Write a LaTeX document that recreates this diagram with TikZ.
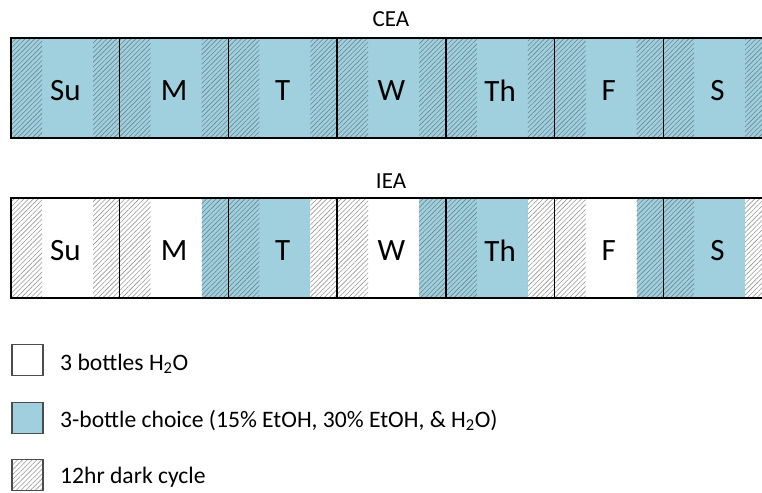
\documentclass[tikz,border=0pt]{standalone}
\usepackage{fontspec}
\setmainfont{Carlito}
\usetikzlibrary{patterns.meta}
\definecolor{choiceblue}{RGB}{160,207,222}
\tikzset{
  every node/.style={font=\fontsize{23}{27}\selectfont, inner sep=0pt},
  water/.style={fill=white},
  choice/.style={fill=choiceblue},
  waterhatch/.style={
    pattern={Lines[angle=45, distance=3.4pt, line width=0.6pt]},
    pattern color=black!40
  },
  choicehatch/.style={
    pattern={Lines[angle=45, distance=3.4pt, line width=0.6pt]},
    pattern color=choiceblue!65!black
  },
  barframe/.style={draw=black, line width=2pt},
  daysep/.style={draw=black, line width=1.4pt},
  daylabel/.style={font=\fontsize{31}{35}\selectfont},
  legtext/.style={anchor=base west, font=\fontsize{23.6}{28}\selectfont},
  legbox/.style={draw=black!70, line width=1.2pt, minimum size=31pt}
}

\begin{document}
\begin{tikzpicture}[x=1pt, y=-1pt]
    \useasboundingbox (0,0) rectangle (762,492);
    \clip (0,0) rectangle (762,492);

    % Titles
    \node (cea) at (391,19) {CEA};
    \node (iea) at (391,181) {IEA};

    % CEA week: choice all day, dark at both ends
    \foreach \d/\lbl in {0/Su, 1/M, 2/T, 3/W, 4/Th, 5/F, 6/S} {
      \pgfmathsetmacro\xa{11+108.7*\d}
      \fill[choice] (\xa,38) rectangle ++(108.7,100);
      \fill[choicehatch] (\xa,38) rectangle ++(31,100);
      \fill[choicehatch] (\xa+82,38) rectangle ++(26.7,100);
      \draw[daysep] (\xa,38) -- ++(0,100);
      \node[daylabel] (cea-\lbl) at (\xa+54.35,91) {\lbl};
    }
    \draw[barframe] (11,38) rectangle (771.9,138);

    % IEA week: \a = start of the day, \b = last dark stretch
    \foreach \d/\lbl/\a/\b in {0/Su/water/water, 1/M/water/choice,
        2/T/choice/water, 3/W/water/choice, 4/Th/choice/water,
        5/F/water/choice, 6/S/choice/water} {
      \pgfmathsetmacro\xa{11+108.7*\d}
      \fill[\a] (\xa,198) rectangle ++(82,100);
      \fill[\b] (\xa+82,198) rectangle ++(26.7,100);
      \fill[\a hatch] (\xa,198) rectangle ++(31,100);
      \fill[\b hatch] (\xa+82,198) rectangle ++(26.7,100);
      \draw[daysep] (\xa,198) -- ++(0,100);
      \node[daylabel] (iea-\lbl) at (\xa+54.35,251) {\lbl};
    }
    \draw[barframe] (11,198) rectangle (771.9,298);

    % Legend
    \node[legbox, fill=white] (leg-water) at (27.5,360) {};
    \node[legbox, fill=choiceblue] (leg-choice) at (27.5,418) {};
    \node[legbox, waterhatch] (leg-dark) at (27.5,475) {};
    \node[legtext] (leg-water-text) at (60,370)
      {3 bottles H\textsubscript{2}O};
    \node[legtext] (leg-choice-text) at (60,427)
      {3-bottle choice (15\% EtOH, 30\% EtOH, \& H\textsubscript{2}O)};
    \node[legtext] (leg-dark-text) at (60,483)
      {12hr dark cycle};

\end{tikzpicture}
\end{document}
